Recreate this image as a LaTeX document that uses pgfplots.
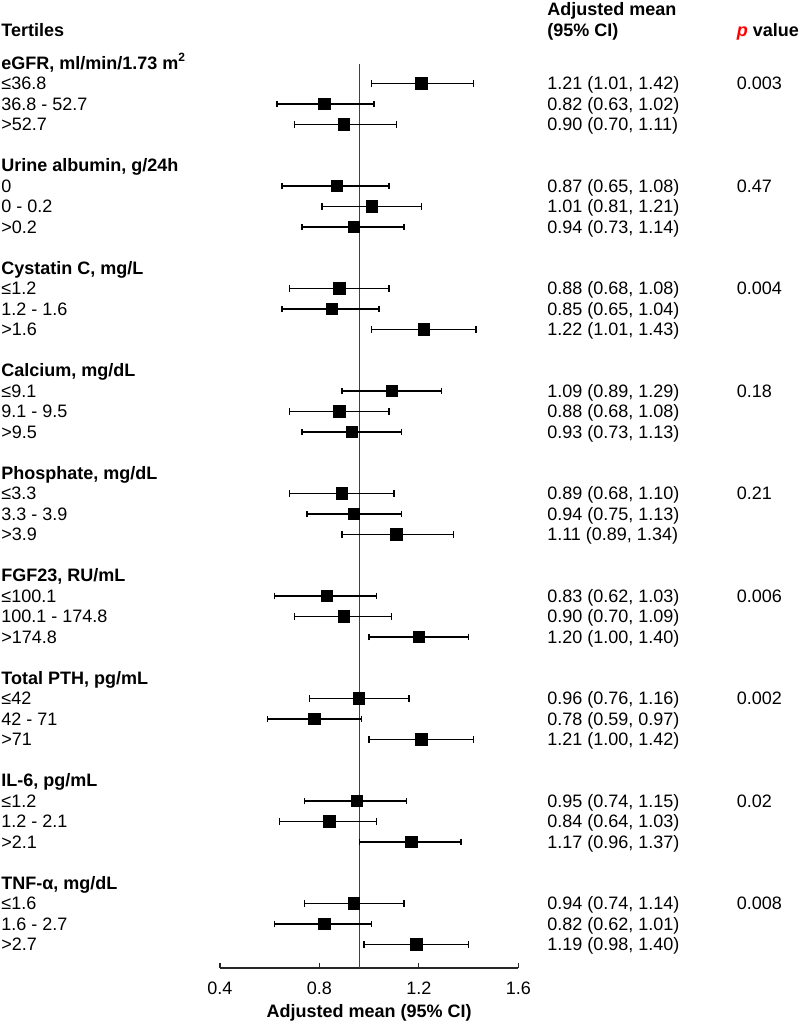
\documentclass[border=0pt]{standalone}
\usepackage{pgfplots}
\pgfplotsset{compat=1.18}
\usepackage{pgfplotstable}
\usepackage{fontspec}
\setmainfont{Liberation Sans}

% row index (negative, top to bottom), mean, lower and upper 95% CI
\pgfplotstableread{
r    m     lo    hi
-1   1.21  1.01  1.42
-2   0.82  0.63  1.02
-3   0.90  0.70  1.11
-6   0.87  0.65  1.08
-7   1.01  0.81  1.21
-8   0.94  0.73  1.14
-11  0.88  0.68  1.08
-12  0.85  0.65  1.04
-13  1.22  1.01  1.43
-16  1.09  0.89  1.29
-17  0.88  0.68  1.08
-18  0.93  0.73  1.13
-21  0.89  0.68  1.10
-22  0.94  0.75  1.13
-23  1.11  0.89  1.34
-26  0.83  0.62  1.03
-27  0.90  0.70  1.09
-28  1.20  1.00  1.40
-31  0.96  0.76  1.16
-32  0.78  0.59  0.97
-33  1.21  1.00  1.42
-36  0.95  0.74  1.15
-37  0.84  0.64  1.03
-38  1.17  0.96  1.37
-41  0.94  0.74  1.14
-42  0.82  0.62  1.01
-43  1.19  0.98  1.40
}\means

\tikzset{txt/.style={anchor=west, inner sep=0pt, text height=6.45pt, text depth=0pt}}
\newcommand\grp[2]{\node[txt, font=\bfseries] at (axis cs:-0.481,-#1) {#2};}
\newcommand\lab[2]{\node[txt] at (axis cs:-0.481,-#1) {#2};}
\newcommand\val[2]{\node[txt] at (axis cs:1.715,-#1) {#2};}
\newcommand\pv[2]{\node[txt] at (axis cs:2.478,-#1) {#2};}

\begin{document}
\fontsize{9}{11}\selectfont
\begin{tikzpicture}
\useasboundingbox (-110pt,-27.5pt) rectangle (290pt,484pt);
\begin{axis}[
  at={(0,0)}, anchor=south west,
  scale only axis, width=149.15pt, height=484pt,
  xmin=0.4, xmax=1.6, ymin=-44.15, ymax=3.073,
  axis x line*=bottom, axis y line=none,
  xtick={0.4,0.8,1.2,1.6},
  xticklabels={0.4,0.8,1.2,1.6},
  tick align=inside, major tick length=2.5pt,
  xticklabel style={anchor=center, yshift=-10pt},
  x axis line style={line width=0.6pt, black!85},
  xtick style={line width=0.6pt, black!85},
  xlabel={\bfseries Adjusted mean (95\% CI)},
  xlabel style={at={(axis description cs:0.5,0)}, anchor=center, yshift=-22.5pt},
  clip=false,
  /pgf/number format/assume math mode=true,
]
\draw[line width=0.6pt, black!75] (axis cs:0.961,-0.05) -- (axis cs:0.961,-44.15);

\addplot[only marks, mark=square*, mark size=2.8pt, black,
  error bars/.cd, x dir=both, x explicit,
  error bar style={line width=0.7pt, black},
  error mark=|,
  error mark options={mark size=1.7pt, line width=0.7pt, black}]
  table[x=m, y=r,
        x error plus expr=\thisrow{hi}-\thisrow{m},
        x error minus expr=\thisrow{m}-\thisrow{lo}] {\means};

\grp{-1.61}{Tertiles}
\node[txt, font=\bfseries] at (axis cs:1.715,2.63) {Adjusted mean};
\node[txt, font=\bfseries] at (axis cs:1.715,1.61) {(95\% CI)};
\node[txt, font=\bfseries] at (axis cs:2.478,1.61) {\textcolor{red}{\textit{p}} value};

\grp{0}{eGFR, ml/min/1.73 m\textsuperscript{2}}
\lab{1}{≤36.8} \lab{2}{36.8 - 52.7} \lab{3}{>52.7}
\val{1}{1.21 (1.01, 1.42)} \val{2}{0.82 (0.63, 1.02)} \val{3}{0.90 (0.70, 1.11)}
\pv{1}{0.003}

\grp{5}{Urine albumin, g/24h}
\lab{6}{0} \lab{7}{0 - 0.2} \lab{8}{>0.2}
\val{6}{0.87 (0.65, 1.08)} \val{7}{1.01 (0.81, 1.21)} \val{8}{0.94 (0.73, 1.14)}
\pv{6}{0.47}

\grp{10}{Cystatin C, mg/L}
\lab{11}{≤1.2} \lab{12}{1.2 - 1.6} \lab{13}{>1.6}
\val{11}{0.88 (0.68, 1.08)} \val{12}{0.85 (0.65, 1.04)} \val{13}{1.22 (1.01, 1.43)}
\pv{11}{0.004}

\grp{15}{Calcium, mg/dL}
\lab{16}{≤9.1} \lab{17}{9.1 - 9.5} \lab{18}{>9.5}
\val{16}{1.09 (0.89, 1.29)} \val{17}{0.88 (0.68, 1.08)} \val{18}{0.93 (0.73, 1.13)}
\pv{16}{0.18}

\grp{20}{Phosphate, mg/dL}
\lab{21}{≤3.3} \lab{22}{3.3 - 3.9} \lab{23}{>3.9}
\val{21}{0.89 (0.68, 1.10)} \val{22}{0.94 (0.75, 1.13)} \val{23}{1.11 (0.89, 1.34)}
\pv{21}{0.21}

\grp{25}{FGF23, RU/mL}
\lab{26}{≤100.1} \lab{27}{100.1 - 174.8} \lab{28}{>174.8}
\val{26}{0.83 (0.62, 1.03)} \val{27}{0.90 (0.70, 1.09)} \val{28}{1.20 (1.00, 1.40)}
\pv{26}{0.006}

\grp{30}{Total PTH, pg/mL}
\lab{31}{≤42} \lab{32}{42 - 71} \lab{33}{>71}
\val{31}{0.96 (0.76, 1.16)} \val{32}{0.78 (0.59, 0.97)} \val{33}{1.21 (1.00, 1.42)}
\pv{31}{0.002}

\grp{35}{IL-6, pg/mL}
\lab{36}{≤1.2} \lab{37}{1.2 - 2.1} \lab{38}{>2.1}
\val{36}{0.95 (0.74, 1.15)} \val{37}{0.84 (0.64, 1.03)} \val{38}{1.17 (0.96, 1.37)}
\pv{36}{0.02}

\grp{40}{TNF-α, mg/dL}
\lab{41}{≤1.6} \lab{42}{1.6 - 2.7} \lab{43}{>2.7}
\val{41}{0.94 (0.74, 1.14)} \val{42}{0.82 (0.62, 1.01)} \val{43}{1.19 (0.98, 1.40)}
\pv{41}{0.008}
\end{axis}
\end{tikzpicture}
\end{document}
